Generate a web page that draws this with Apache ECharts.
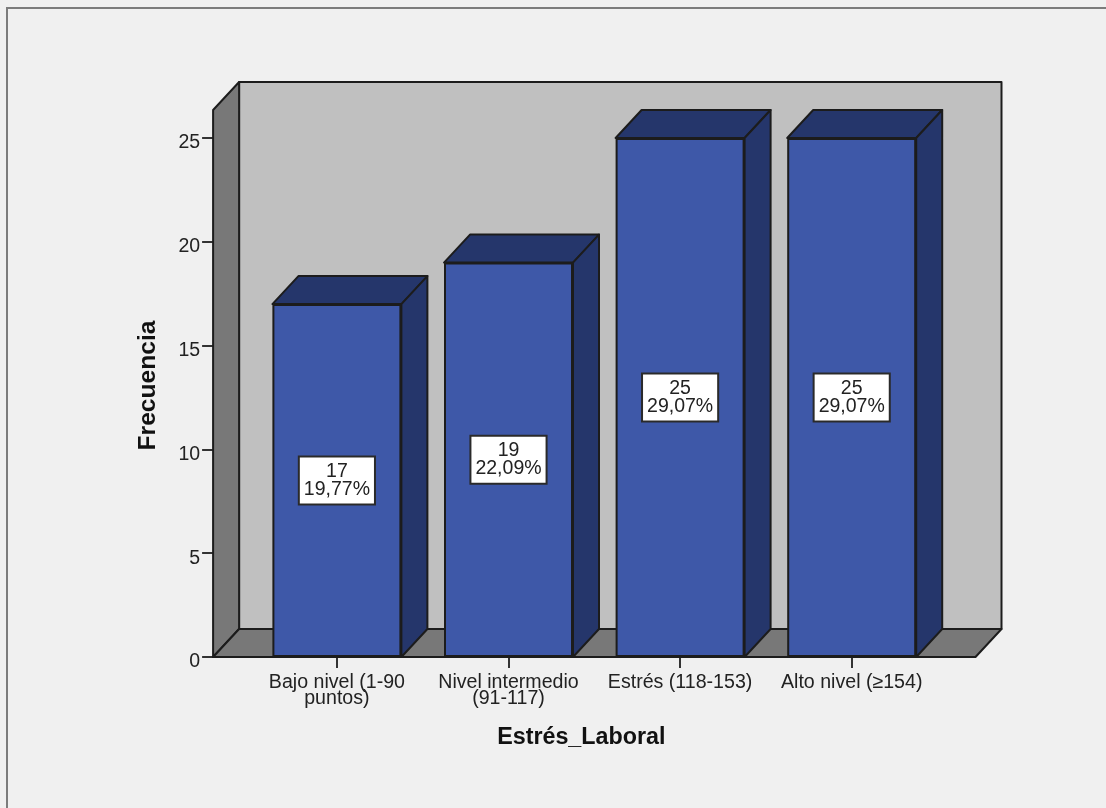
<!DOCTYPE html>
<html>
<head>
<meta charset="utf-8">
<style>html,body{margin:0;padding:0;background:#f0f0f0}#chart{width:1106px;height:808px}</style>
<script src="https://cdn.jsdelivr.net/npm/echarts@6/dist/echarts.min.js"></script>
</head>
<body>
<div id="chart"></div>
<script>
const categories = ['Bajo nivel (1-90\npuntos)', 'Nivel intermedio\n(91-117)', 'Estrés (118-153)', 'Alto nivel (≥154)'];
const frequencies = [17, 19, 25, 25];
const percentages = ['19,77%', '22,09%', '29,07%', '29,07%'];
const yTicks = [0, 5, 10, 15, 20, 25];
const wallTopValue = 26.35;

// Pseudo-3D projection of the chart box, in pixels
const DEPTH_X = 26;
const DEPTH_Y = 28;
const BOX_PAD = 38;
const EDGE = '#1c1c1c';
const FACE = '#3e58a8';
const SHADE = '#25366b';
const WALL = '#c0c0c0';
const WALL_SIDE = '#787878';
const FONT = '"Liberation Sans", Arial, sans-serif';

const poly = (points, fill) => ({
  type: 'polygon',
  shape: { points },
  style: { fill, stroke: EDGE, lineWidth: 2, lineJoin: 'round' }
});

function renderBox(params, api) {
  const c = params.coordSys;
  const y0 = api.coord([0, 0])[1];
  const yTop = api.coord([0, wallTopValue])[1];
  const xl = c.x - BOX_PAD;
  const xr = c.x + c.width + BOX_PAD;
  const dx = DEPTH_X, dy = DEPTH_Y;
  return {
    type: 'group',
    children: [
      poly([[xl + dx, yTop - dy], [xr + dx, yTop - dy], [xr + dx, y0 - dy], [xl + dx, y0 - dy]], WALL),
      poly([[xl, yTop], [xl + dx, yTop - dy], [xl + dx, y0 - dy], [xl, y0]], WALL_SIDE),
      poly([[xl, y0], [xl + dx, y0 - dy], [xr + dx, y0 - dy], [xr, y0]], WALL_SIDE)
    ]
  };
}

function renderBarDepth(params, api) {
  const idx = api.value(0);
  const top = api.coord([idx, api.value(1)]);
  const base = api.coord([idx, 0]);
  const half = barWidth / 2;
  const l = top[0] - half, r = top[0] + half;
  const dx = DEPTH_X, dy = DEPTH_Y;
  return {
    type: 'group',
    children: [
      poly([[l, top[1]], [l + dx, top[1] - dy], [r + dx, top[1] - dy], [r, top[1]]], SHADE),
      poly([[r, top[1]], [r + dx, top[1] - dy], [r + dx, base[1] - dy], [r, base[1]]], SHADE)
    ]
  };
}

const barWidth = 129;
const chart = echarts.init(document.getElementById('chart'), null, { renderer: 'canvas' });

chart.setOption({
  animation: false,
  backgroundColor: '#f0f0f0',
  textStyle: { fontFamily: FONT },
  graphic: [{
    type: 'rect',
    silent: true,
    shape: { x: 7, y: 8, width: 1200, height: 900 },
    style: { fill: 'none', stroke: '#7c7c7c', lineWidth: 2 }
  }],
  grid: { left: 251.1, top: 138, width: 686.4, height: 519 },
  xAxis: {
    type: 'category',
    data: categories,
    axisLine: { show: false },
    axisTick: { show: true, alignWithLabel: true, length: 11, lineStyle: { color: '#333', width: 2 } },
    axisLabel: { color: '#222', fontFamily: FONT, fontSize: 19.6, lineHeight: 16.5, margin: 17, interval: 0, width: 170, overflow: 'none' },
    name: 'Estrés_Laboral',
    nameLocation: 'middle',
    nameGap: 69,
    nameTextStyle: { color: '#111', fontFamily: FONT, fontSize: 23.3, fontWeight: 'bold', padding: [0, 26, 0, 0] }
  },
  yAxis: {
    type: 'value',
    min: 0,
    max: yTicks[yTicks.length - 1],
    interval: 5,
    offset: BOX_PAD,
    axisLine: { show: false },
    axisTick: { show: true, length: 11, lineStyle: { color: '#333', width: 2 } },
    axisLabel: { color: '#222', fontFamily: FONT, fontSize: 19.5, margin: 13, verticalAlign: 'top', lineHeight: 10 },
    splitLine: { show: false },
    name: 'Frecuencia',
    nameLocation: 'middle',
    nameGap: 52,
    nameTextStyle: { color: '#111', fontFamily: FONT, fontSize: 24.6, fontWeight: 'bold', padding: [0, 0, 0, 24] }
  },
  series: [
    {
      type: 'custom',
      silent: true,
      clip: false,
      z: 1,
      renderItem: renderBox,
      data: [[0, 0]],
      encode: { x: 0, y: 1 }
    },
    {
      type: 'custom',
      silent: true,
      clip: false,
      z: 2,
      renderItem: renderBarDepth,
      data: frequencies.map((v, i) => [i, v]),
      encode: { x: 0, y: 1 }
    },
    {
      type: 'bar',
      z: 3,
      barWidth,
      data: frequencies,
      itemStyle: { color: FACE, borderColor: EDGE, borderWidth: 2 },
      label: {
        show: true,
        position: 'inside',
        formatter: p => p.value + '\n' + percentages[p.dataIndex],
        color: '#222',
        fontFamily: FONT,
        fontSize: 19.5,
        lineHeight: 18,
        align: 'center',
        backgroundColor: '#fff',
        borderColor: '#2a2a2a',
        borderWidth: 2,
        padding: [5, 4]
      }
    }
  ]
});
</script>
</body>
</html>
